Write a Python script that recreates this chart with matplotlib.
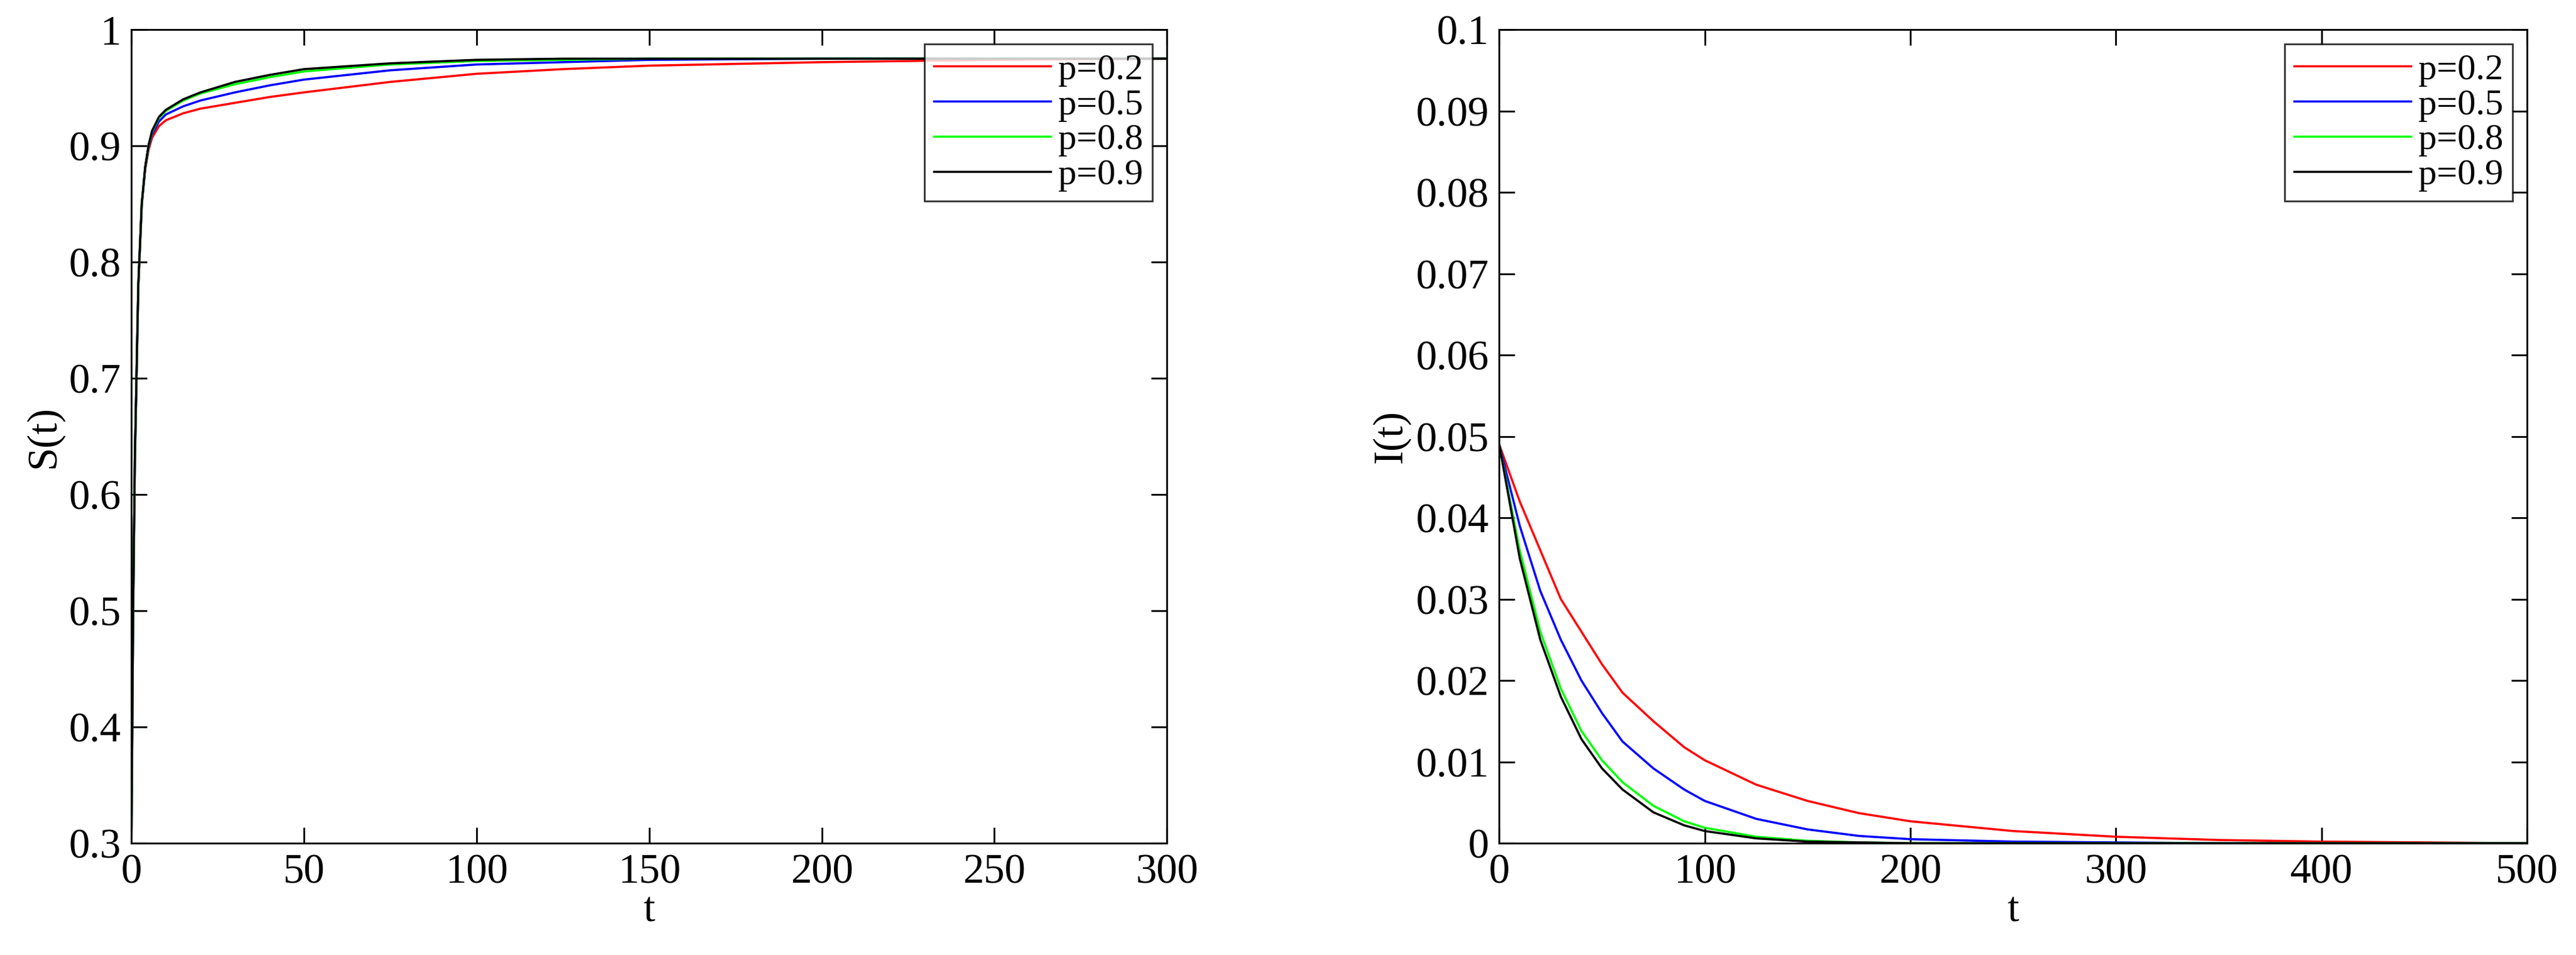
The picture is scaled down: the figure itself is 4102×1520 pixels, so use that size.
import matplotlib
matplotlib.use("Agg")
import matplotlib.pyplot as plt
import numpy as np

plt.rcParams['font.family'] = ['Liberation Serif', 'DejaVu Serif']

labels = ["p=0.2", "p=0.5", "p=0.8", "p=0.9"]
colors = ["#ff0000", "#0000ff", "#00ff00", "#000000"]

t_S = [0, 0.5, 1, 2, 3, 4, 5, 6, 8, 10, 15, 20, 30, 40, 50, 75, 100, 125, 150, 200, 250, 300]
S_02 = [0.30, 0.50, 0.63, 0.78, 0.85, 0.88, 0.897, 0.907, 0.917, 0.922, 0.928, 0.932, 0.937, 0.942, 0.946, 0.955, 0.962, 0.966, 0.969, 0.972, 0.974, 0.975]
S_05 = [0.30, 0.50, 0.63, 0.78, 0.85, 0.881, 0.899, 0.910, 0.921, 0.927, 0.934, 0.939, 0.946, 0.952, 0.957, 0.965, 0.970, 0.972, 0.974, 0.975, 0.975, 0.975]
S_08 = [0.30, 0.50, 0.63, 0.78, 0.85, 0.882, 0.900, 0.912, 0.924, 0.930, 0.939, 0.945, 0.953, 0.959, 0.964, 0.970, 0.973, 0.974, 0.975, 0.975, 0.975, 0.975]
S_09 = [0.30, 0.50, 0.63, 0.78, 0.85, 0.882, 0.901, 0.913, 0.925, 0.931, 0.940, 0.946, 0.955, 0.961, 0.966, 0.971, 0.974, 0.975, 0.975, 0.975, 0.975, 0.975]

t_I = [0, 10, 20, 30, 40, 50, 60, 75, 90, 100, 125, 150, 175, 200, 250, 300, 350, 400, 450, 500]
I_02 = [0.049, 0.042, 0.036, 0.030, 0.026, 0.022, 0.0185, 0.015, 0.0118, 0.0102, 0.0072, 0.0052, 0.0037, 0.0027, 0.0015, 0.0008, 0.0004, 0.0002, 0.0001, 0.0]
I_05 = [0.049, 0.039, 0.031, 0.025, 0.020, 0.016, 0.0125, 0.0092, 0.0066, 0.0052, 0.003, 0.0017, 0.0009, 0.0005, 0.0002, 0.0001, 0.0, 0.0, 0.0, 0.0]
I_08 = [0.049, 0.036, 0.026, 0.019, 0.0138, 0.0102, 0.0075, 0.0046, 0.0027, 0.0019, 0.0008, 0.0003, 0.0001, 0.0, 0.0, 0.0, 0.0, 0.0, 0.0, 0.0]
I_09 = [0.049, 0.035, 0.025, 0.018, 0.0128, 0.0092, 0.0066, 0.0038, 0.0022, 0.0015, 0.0006, 0.0002, 0.0001, 0.0, 0.0, 0.0, 0.0, 0.0, 0.0, 0.0]

fig = plt.figure(figsize=(41.02, 15.2), dpi=100)
ax1 = fig.add_axes([0.051, 0.117, 0.402, 0.852])
ax2 = fig.add_axes([0.582, 0.117, 0.399, 0.852])

fs = 48
for ys, c, l in zip([S_02, S_05, S_08, S_09], colors, labels):
    ax1.plot(t_S, ys, color=c, lw=2.5, label=l)
ax1.set_xlim(0, 300); ax1.set_ylim(0.3, 1)
ax1.set_xticks(np.arange(0, 301, 50)); ax1.set_yticks(np.arange(0.3, 1.01, 0.1))
ax1.set_yticklabels(["0.3", "0.4", "0.5", "0.6", "0.7", "0.8", "0.9", "1"])
ax1.set_xlabel("t", fontsize=fs, labelpad=0); ax1.set_ylabel("S(t)", fontsize=fs, labelpad=6)

for ys, c, l in zip([I_02, I_05, I_08, I_09], colors, labels):
    ax2.plot(t_I, ys, color=c, lw=2.5, label=l)
ax2.set_xlim(0, 500); ax2.set_ylim(0, 0.1)
ax2.set_xticks(np.arange(0, 501, 100)); ax2.set_yticks(np.arange(0, 0.101, 0.01))
ax2.set_yticklabels(["0"] + ["%.2f" % v for v in np.arange(0.01, 0.1, 0.01)] + ["0.1"])
ax2.set_xlabel("t", fontsize=fs, labelpad=0); ax2.set_ylabel("I(t)", fontsize=fs, labelpad=6)

for ax in (ax1, ax2):
    ax.tick_params(direction='in', length=18, width=2, labelsize=fs, top=True, right=True, pad=12)
    for s in ax.spines.values():
        s.set_linewidth(2)
    leg = ax.legend(loc='upper right', fontsize=fs - 6, frameon=True, fancybox=False,
                    edgecolor='black', borderaxespad=0.4, handlelength=3.2, labelspacing=0.05,
                    borderpad=0.25, handletextpad=0.2)
    leg.get_frame().set_linewidth(2)

fig.savefig("out.png", dpi=100)
